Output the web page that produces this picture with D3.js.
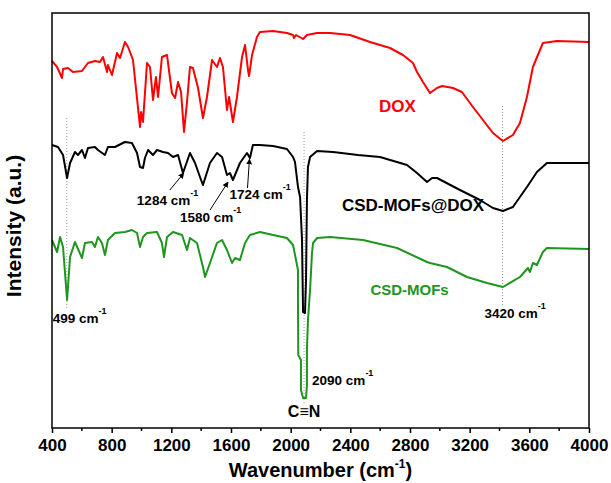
<!DOCTYPE html>
<html>
<head>
<meta charset="utf-8">
<script src="https://cdn.jsdelivr.net/npm/d3@7"></script>
<style>
  body { margin: 0; background: #fff; }
  svg text { font-family: Arial, "Liberation Sans", sans-serif; font-weight: bold; }
</style>
</head>
<body>
<div id="chart"></div>
<script>
// wavenumber (cm-1) / intensity (a.u.)
const doxWave = [400,434,467,474,507,541,601,641,688,722,742,769,775,802,836,856,889,910,943,990,997,1010,1037,1057,1077,1097,1111,1137,1171,1204,1225,1245,1265,1285,1305,1325,1345,1379,1412,1439,1473,1506,1526,1546,1573,1587,1613,1640,1674,1694,1714,1721,1741,1774,1794,1882,1975,2016,2022,2036,2083,2109,2177,2264,2398,2532,2666,2753,2820,2847,2887,2934,2981,3015,3088,3148,3222,3289,3356,3423,3490,3537,3584,3624,3691,3785,4000];
const doxInt  = [367,361,350,359,360,356,357,365,367,366,371,356,363,353,375,370,386,381,368,301,316,306,365,361,328,351,331,371,373,335,330,346,336,296,326,361,360,340,310,331,368,361,370,361,318,331,306,331,371,383,358,352,373,391,396,397,395,393,390,393,389,393,395,395,393,386,380,373,365,356,346,335,340,342,340,336,321,308,295,287,293,305,331,361,385,387,386];

const mofDoxWave = [400,440,474,501,521,554,574,601,621,641,688,708,755,775,822,889,936,970,990,1010,1023,1044,1077,1104,1144,1178,1211,1245,1278,1325,1359,1392,1412,1459,1506,1540,1573,1593,1613,1660,1707,1727,1747,1794,1882,1975,2016,2029,2049,2063,2076,2083,2096,2103,2109,2116,2130,2177,2284,2451,2599,2780,2847,2914,2948,2981,3135,3269,3356,3423,3490,3584,3651,3718,4000];
const mofDoxInt  = [283,281,273,250,265,276,273,278,270,280,281,278,273,281,281,286,285,275,261,260,270,278,273,278,276,275,271,273,255,275,265,251,243,265,275,271,253,255,248,265,275,270,283,283,282,279,271,266,241,231,188,116,115,148,228,261,271,277,276,273,271,263,255,246,250,250,238,228,220,217,221,241,256,265,265];

const mofWave = [400,434,454,474,501,521,554,601,621,668,688,708,735,755,775,822,889,936,970,990,1010,1037,1104,1137,1151,1171,1211,1272,1305,1325,1372,1412,1426,1459,1506,1540,1573,1607,1627,1660,1694,1727,1794,1882,1975,2016,2049,2049,2051,2069,2069,2083,2103,2109,2109,2116,2130,2143,2150,2177,2264,2485,2713,2914,2934,3048,3182,3316,3423,3537,3591,3604,3624,3651,3691,3718,4000];
const mofInt  = [188,176,191,181,128,171,186,170,185,186,181,191,185,173,188,195,196,198,195,181,191,195,196,185,171,191,196,193,178,190,185,161,151,165,185,188,178,165,170,168,185,193,196,193,190,183,158,128,73,68,38,30,30,43,78,108,138,175,185,190,191,188,180,166,165,161,151,145,141,151,160,156,165,163,176,180,179];

const xTicks = [400,800,1200,1600,2000,2400,2800,3200,3600,4000];
const markers = [
  {w: 499, top: 310, bottom: 118},
  {w: 2090, top: 296, bottom: 23},
  {w: 3420, top: 322, bottom: 121}
];
const peakLabels = [
  {text: "499 cm", x: 499, y: 105, dx: -14},
  {text: "1284 cm", x: 1284, y: 223, dx: -47},
  {text: "1580 cm", x: 1580, y: 206, dx: -48},
  {text: "1724 cm", x: 1724, y: 229, dx: -20},
  {text: "2090 cm", x: 2090, y: 43, dx: 8},
  {text: "3420 cm", x: 3420, y: 110, dx: -18}
];
const arrows = [
  {w: 1284, v: 255, fromDx: -14, fromDy: 17},
  {w: 1580, v: 246, fromDx: -18, fromDy: 28},
  {w: 1724, v: 269, fromDx: -2, fromDy: 29}
];

const W = 611, H = 483;
const margin = {top: 13, right: 22, bottom: 55, left: 52};
const width = W - margin.left - margin.right;
const height = H - margin.top - margin.bottom;

const svg = d3.select("#chart").append("svg")
    .attr("width", W).attr("height", H)
    .append("g")
    .attr("transform", `translate(${margin.left},${margin.top})`);

const x = d3.scaleLinear().domain([400, 4000]).range([0, width]);
const y = d3.scaleLinear().domain([0, 415]).range([height, 0]);

// dotted guide lines
markers.forEach(m => {
    svg.append("line")
        .attr("x1", x(m.w)).attr("x2", x(m.w))
        .attr("y1", y(m.top)).attr("y2", y(m.bottom))
        .attr("stroke", "#999").attr("stroke-width", 1)
        .attr("stroke-dasharray", "1,2");
});

const line = d3.line().x(d => x(d[0])).y(d => y(d[1]));
const series = [
    {w: mofWave, v: mofInt, color: "#1e961e"},
    {w: mofDoxWave, v: mofDoxInt, color: "#000"},
    {w: doxWave, v: doxInt, color: "#ff0000"}
];
series.forEach(s => {
    svg.append("path")
        .datum(d3.zip(s.w, s.v))
        .attr("fill", "none")
        .attr("stroke", s.color)
        .attr("stroke-width", 2)
        .attr("stroke-linejoin", "round")
        .attr("d", line);
});

// frame
svg.append("rect")
    .attr("width", width).attr("height", height)
    .attr("fill", "none").attr("stroke", "#000").attr("stroke-width", 1.5);

// x axis
const xAxis = svg.append("g")
    .attr("transform", `translate(0,${height})`)
    .call(d3.axisBottom(x).tickValues(xTicks).tickFormat(d3.format("d"))
        .tickSize(5).tickPadding(6).tickSizeOuter(0));
xAxis.select(".domain").remove();
xAxis.selectAll("line").attr("stroke-width", 1.5);
xAxis.selectAll("text").attr("font-size", 17).attr("fill", "#000");
svg.append("g").selectAll("line")
    .data(d3.range(600, 4000, 400))
    .join("line")
    .attr("x1", d => x(d)).attr("x2", d => x(d))
    .attr("y1", height).attr("y2", height + 3)
    .attr("stroke", "#000").attr("stroke-width", 1.5);

// axis titles
const xt = svg.append("text")
    .attr("x", width / 2).attr("y", height + 49)
    .attr("text-anchor", "middle").attr("font-size", 20)
    .text("Wavenumber (cm");
xt.append("tspan").attr("font-size", 12).attr("dy", -9).text("-1");
xt.append("tspan").attr("dy", 9).text(")");

svg.append("text")
    .attr("transform", `translate(${-31},${226 - margin.top}) rotate(-90)`)
    .attr("text-anchor", "middle").attr("font-size", 21)
    .text("Intensity (a.u.)");

// series labels
svg.append("text").attr("x", x(2592)).attr("y", y(316))
    .attr("fill", "#ff0000").attr("font-size", 17).text("DOX");
svg.append("text").attr("x", x(2820)).attr("y", y(217))
    .attr("text-anchor", "middle").attr("font-size", 17).text("CSD-MOFs@DOX");
svg.append("text").attr("x", x(2797)).attr("y", y(133))
    .attr("text-anchor", "middle").attr("fill", "#1e961e").attr("font-size", 15).text("CSD-MOFs");

// peak labels
peakLabels.forEach(p => {
    const t = svg.append("text")
        .attr("x", x(p.x) + p.dx).attr("y", y(p.y))
        .attr("font-size", 13.5).text(p.text);
    t.append("tspan").attr("font-size", 9).attr("dy", -9).text("-1");
});
svg.append("text").attr("x", x(2090)).attr("y", y(11))
    .attr("text-anchor", "middle").attr("font-size", 16).text("C≡N");

// arrows
const defs = svg.append("defs");
defs.append("marker").attr("id", "arr")
    .attr("viewBox", "0 0 10 10").attr("refX", 9).attr("refY", 5)
    .attr("markerWidth", 6).attr("markerHeight", 6).attr("orient", "auto")
    .append("path").attr("d", "M0,0L10,5L0,10z").attr("fill", "#000");
arrows.forEach(a => {
    svg.append("line")
        .attr("x1", x(a.w) + a.fromDx).attr("y1", y(a.v) + a.fromDy)
        .attr("x2", x(a.w)).attr("y2", y(a.v))
        .attr("stroke", "#000").attr("stroke-width", 1)
        .attr("marker-end", "url(#arr)");
});
</script>
</body>
</html>
